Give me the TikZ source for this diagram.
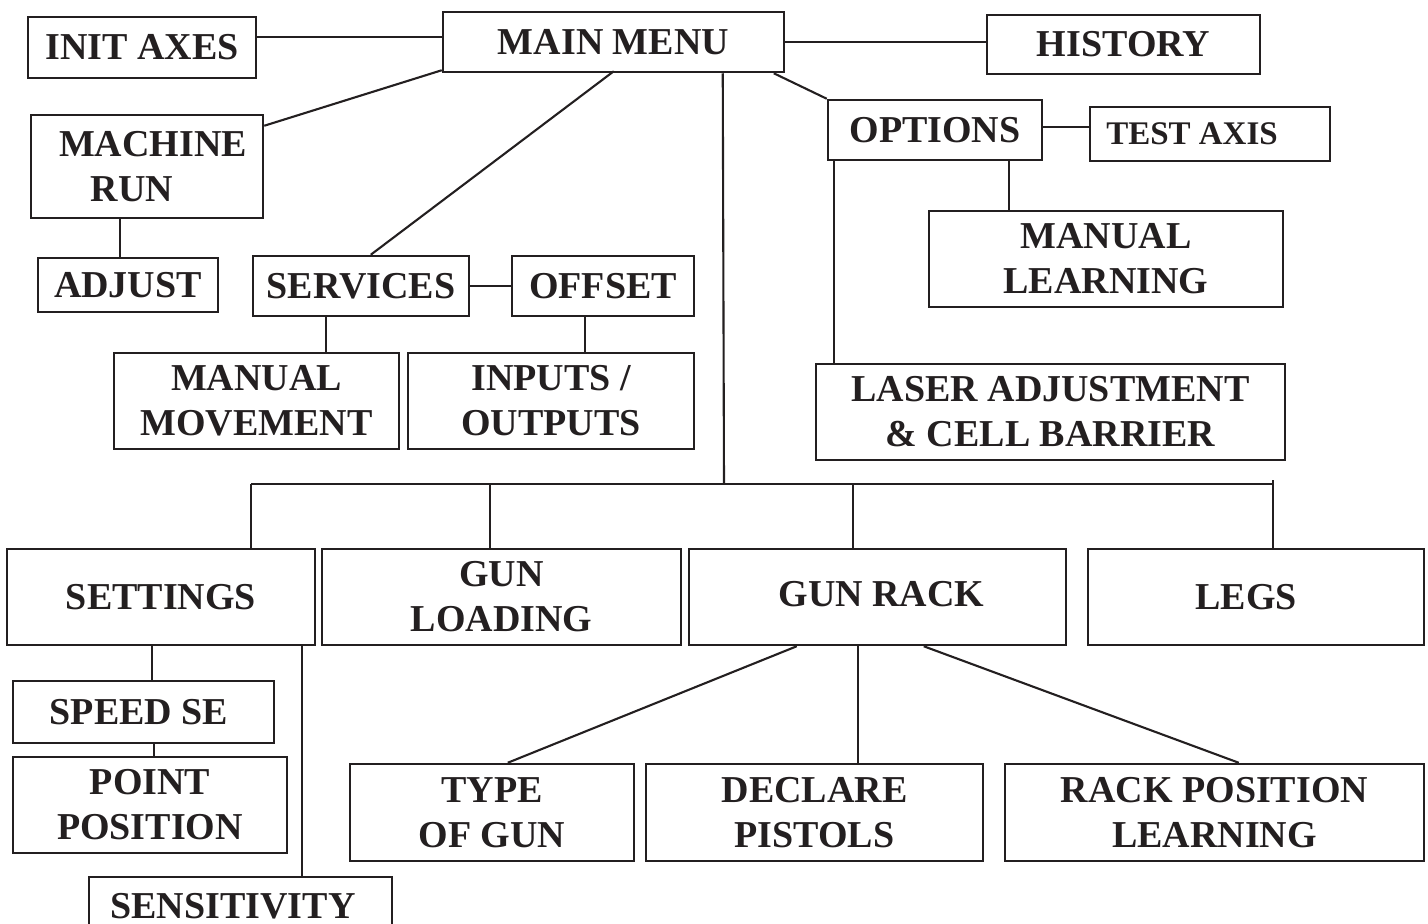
\documentclass[tikz,border=0pt]{standalone}
\usepackage{fontspec}
\setmainfont{Liberation Serif}
\usetikzlibrary{calc}
\definecolor{ink}{RGB}{35,31,32}
\begin{document}
\begin{tikzpicture}[x=1pt,y=-1pt,
  box/.style={draw=ink, line width=2.5pt, text=ink, inner sep=0pt, align=center,
    font=\fontsize{38}{45}\selectfont\bfseries},
  link/.style={draw=ink, line width=2.1pt}]
\useasboundingbox (0,0) rectangle (1428,924);
% boxes
\node[box, minimum width=228, minimum height=61] (init) at (142,47.5) {INIT AXES};
\node[box, minimum width=341, minimum height=60] (main) at (613.5,42) {MAIN MENU};
\node[box, minimum width=273, minimum height=59] (history) at (1123.5,44.5) {HISTORY};
\node[box, minimum width=232, minimum height=103] (machine) at (147,166.5) {\hspace*{12pt}MACHINE\\RUN\hspace*{30pt}};
\node[box, minimum width=180, minimum height=54] (adjust) at (128,285) {ADJUST};
\node[box, minimum width=216, minimum height=60] (services) at (361,286) {SERVICES};
\node[box, minimum width=182, minimum height=60] (offset) at (603,286) {OFFSET};
\node[box, minimum width=285, minimum height=96] (manmov) at (256.5,401) {MANUAL\\MOVEMENT};
\node[box, minimum width=286, minimum height=96] (inout) at (551,401) {INPUTS /\\OUTPUTS};
\node[box, minimum width=214, minimum height=60] (options) at (935,130) {OPTIONS};
\node[box, minimum width=240, minimum height=54, font=\fontsize{33}{40}\selectfont\bfseries] (testaxis) at (1210,134) {TEST AXIS\hspace*{36pt}};
\node[box, minimum width=354, minimum height=96] (manlearn) at (1106,259) {MANUAL\\LEARNING};
\node[box, minimum width=469, minimum height=96] (laser) at (1050.5,412) {LASER ADJUSTMENT\\\& CELL BARRIER};
\node[box, minimum width=308, minimum height=96] (settings) at (161,597) {SETTINGS};
\node[box, minimum width=359, minimum height=96] (gunload) at (501.5,597) {GUN\\LOADING};
\node[box, minimum width=377, minimum height=96] (gunrack) at (877.5,597) {\raisebox{6pt}{GUN RACK}\hspace*{-8pt}};
\node[box, minimum width=336, minimum height=96] (legs) at (1256,597) {LEGS\hspace*{20pt}};
\node[box, minimum width=261, minimum height=62] (speed) at (143.5,712) {SPEED SE\hspace*{9pt}};
\node[box, minimum width=274, minimum height=96] (point) at (150,805) {POINT\\POSITION};
\node[box, minimum width=303, minimum height=58] (sens) at (240.5,906) {SENSITIVITY\hspace*{15pt}};
\node[box, minimum width=284, minimum height=97] (type) at (492,812.5) {TYPE\\OF GUN};
\node[box, minimum width=337, minimum height=97] (declare) at (814.5,812.5) {DECLARE\\PISTOLS};
\node[box, minimum width=419, minimum height=97] (rack) at (1214.5,812.5) {RACK POSITION\\LEARNING};
% bus coordinates
\coordinate (busL) at (251,484);
\coordinate (busR) at (1273,484);
\coordinate (busM) at (724,484);
\coordinate (busG) at (490,484);
\coordinate (busK) at (853,484);
% connectors
\draw[link] ($(init.north east)+(0,21)$) -- ($(main.north west)+(0,26)$);
\draw[link] (main.east) -- (main.east -| history.west);
\draw[link] ($(machine.north east)+(0,12)$) -- ($(main.south west)+(0,-3)$);
\draw[link] ($(services.north west)+(119,0)$) -- ($(main.south west)+(172,-2)$);
\draw[link] ($(main.south west)+(281,0)$) -- (busM);
\draw[link] ($(main.south west)+(332,0)$) -- (options.north west);
\draw[link] ($(options.north east)+(0,28)$) -- ($(testaxis.north west)+(0,21)$);
\draw[link] ($(options.south west)+(182,0)$) coordinate (o1) -- (o1 |- manlearn.north);
\draw[link] ($(options.south west)+(7,0)$) coordinate (o2) -- (o2 |- laser.north);
\draw[link] ($(machine.south west)+(90,0)$) coordinate (m1) -- (m1 |- adjust.north);
\draw[link] (services.east) -- (offset.west);
\draw[link] ($(services.south west)+(74,0)$) coordinate (s1) -- (s1 |- manmov.north);
\draw[link] ($(offset.south west)+(74,0)$) coordinate (f1) -- (f1 |- inout.north);
\draw[link] (busL) -- (busR);
\draw[link] (busL) -- (busL |- settings.north);
\draw[link] (busG) -- (busG |- gunload.north);
\draw[link] (busK) -- (busK |- gunrack.north);
\draw[link] ($(busR)+(0,-4)$) -- (busR |- legs.north);
\draw[link] ($(settings.south west)+(146,0)$) coordinate (t1) -- (t1 |- speed.north);
\draw[link] ($(speed.south west)+(142,0)$) coordinate (p1) -- (p1 |- point.north);
\draw[link] ($(settings.south west)+(296,0)$) coordinate (t2) -- (t2 |- sens.north);
\draw[link] ($(gunrack.south west)+(109,0)$) -- ($(type.north west)+(159,0)$);
\draw[link] ($(gunrack.south west)+(170,0)$) coordinate (g1) -- (g1 |- declare.north);
\draw[link] ($(gunrack.south west)+(236,0)$) -- ($(rack.north west)+(235,0)$);
\end{tikzpicture}
\end{document}
